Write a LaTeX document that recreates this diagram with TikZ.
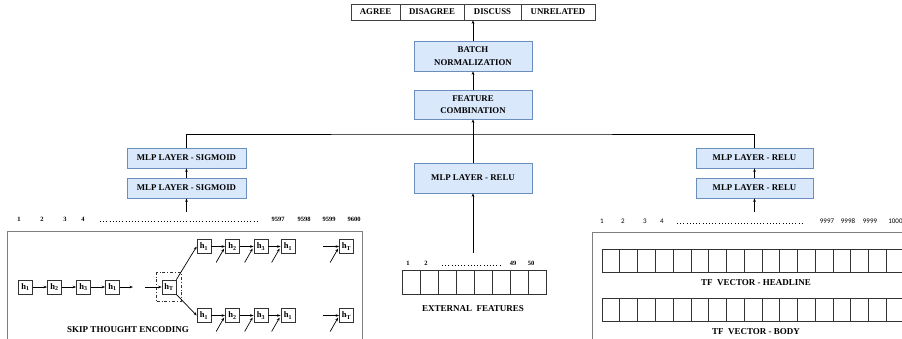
\documentclass[tikz,border=0pt]{standalone}
\usepackage{fontspec}
\setmainfont{Liberation Serif}
\newfontfamily\calibrifont{Carlito}
\usetikzlibrary{arrows.meta}
\usetikzlibrary{calc}
\usetikzlibrary{fit}

\definecolor{layerfill}{HTML}{DAE8FC}
\definecolor{layerdraw}{HTML}{6C8EBF}
\definecolor{panelgray}{HTML}{7F7F7F}

\newcommand{\hlab}[1]{\textbf{h}\textsubscript{\textbf{#1}}}

\tikzset{
	layer/.style={draw=layerdraw, fill=layerfill, minimum width=118pt, inner sep=0pt, align=center, font=\fontsize{8.8}{12.5}\selectfont\bfseries},
	outcell/.style={draw=black!75, minimum height=16pt, inner sep=0pt, font=\fontsize{8.8}{10}\selectfont\bfseries},
	hcell/.style={draw=black!80, minimum width=14pt, minimum height=14pt, inner sep=0pt, font=\fontsize{8.5}{9}\selectfont},
	idx/.style={font=\fontsize{6.5}{7}\selectfont\bfseries, inner sep=0pt},
	tfidx/.style={font=\fontsize{7}{8}\selectfont\calibrifont, inner sep=0pt},
	capt/.style={font=\fontsize{9}{10}\selectfont\bfseries, inner sep=0pt},
	arr/.style={-{Stealth[length=3.5pt,width=2.6pt]}},
	dotrow/.style={line width=0.9pt, dash pattern=on 0.9pt off 2.3pt},
	cellbox/.style={draw=black!80},
}

\begin{document}
\begin{tikzpicture}[x=1pt, y=-1pt, line width=0.7pt]
	\useasboundingbox (0,0) rectangle (902,339);
	\clip (0,0) rectangle (902,339);

	%Output classes
	\node [outcell, minimum width=49pt] (agree) at (375.5,12) {AGREE};
	\node [outcell, minimum width=64pt] (disagree) at (432,12) {DISAGREE};
	\node [outcell, minimum width=57pt] (discuss) at (492.5,12) {DISCUSS};
	\node [outcell, minimum width=74pt] (unrelated) at (558,12) {UNRELATED};

	%Batch norm and feature combination
	\node [layer, minimum height=30pt] (batch) at (473,56) {BATCH\\NORMALIZATION};
	\node [layer, minimum height=29pt] (feat) at (473,104.5) {FEATURE\\COMBINATION};
	\draw [arr] (batch.north) -- (batch.north |- discuss.south);
	\draw [arr] (feat.north) -- (batch.south);

	%MLP layers
	\node [layer, minimum width=119pt, minimum height=20pt] (sigA) at (186.5,158) {MLP LAYER - SIGMOID};
	\node [layer, minimum width=119pt, minimum height=20pt] (sigB) at (186.5,188) {MLP LAYER - SIGMOID};
	\node [layer, minimum height=30pt] (mid) at (473,178) {MLP LAYER - RELU};
	\node [layer, minimum width=117pt, minimum height=20pt] (reluA) at (754.5,158) {MLP LAYER - RELU};
	\node [layer, minimum width=117pt, minimum height=20pt] (reluB) at (754.5,188) {MLP LAYER - RELU};

	\coordinate (bus) at (473,134);
	\draw (sigA.north) |- (bus) -| (reluA.north);
	\draw [arr] (mid.north) -- (feat.south);
	\draw [arr] (sigB.north) -- (sigA.south);
	\draw [arr] (reluB.north) -- (reluA.south);

	\coordinate (sigIn) at (186.5,212);
	\coordinate (midIn) at (473,253);
	\coordinate (reluIn) at (754.5,212);
	\draw [arr] (sigIn) -- (sigB.south);
	\draw [arr] (midIn) -- (mid.south);
	\draw [arr] (reluIn) -- (reluB.south);

	%Skip thought panel
	\draw [panelgray] (7,350) |- (362,231) -- (362,350);
	\node [idx] (s1) at (19,219) {1};
	\node [idx] (s2) at (42,219) {2};
	\node [idx] (s3) at (65,219) {3};
	\node [idx] (s4) at (83,219) {4};
	\draw [dotrow] (100,221.5) -- (257,221.5);
	\node [idx] (s9597) at (278,219) {9597};
	\node [idx] (s9598) at (304,219) {9598};
	\node [idx] (s9599) at (329,219) {9599};
	\node [idx] (s9600) at (354,219) {9600};

	%Encoder
	\node [hcell] (a1) at (25.5,287) {\hlab{1}};
	\node [hcell] (a2) at (54.5,287) {\hlab{2}};
	\node [hcell] (a3) at (83.5,287) {\hlab{3}};
	\node [hcell] (a4) at (112.5,287) {\hlab{1}};
	\node [hcell] (hT) at (169,287) {\hlab{T}};
	\node [draw=black!80, dash dot, inner xsep=5pt, inner ysep=7pt, fit=(hT)] (hTbox) {};
	\coordinate (aEnd) at (133,287);
	\coordinate (aCont) at (145,287);
	\draw [arr] (a1) -- (a2);
	\draw [arr] (a2) -- (a3);
	\draw [arr] (a3) -- (a4);
	\draw [arr] (a4) -- (aEnd);
	\draw [arr] (aCont) -- (hT);

	%Decoders
	\node [hcell] (b1) at (204,246.5) {\hlab{1}};
	\node [hcell] (b2) at (232.5,246.5) {\hlab{2}};
	\node [hcell] (b3) at (261,246.5) {\hlab{3}};
	\node [hcell] (b4) at (288,246.5) {\hlab{1}};
	\node [hcell] (bT) at (346.5,246.5) {\hlab{T}};
	\node [hcell] (c1) at (204,315.5) {\hlab{1}};
	\node [hcell] (c2) at (232.5,315.5) {\hlab{2}};
	\node [hcell] (c3) at (261,315.5) {\hlab{3}};
	\node [hcell] (c4) at (288,315.5) {\hlab{1}};
	\node [hcell] (cT) at (346.5,315.5) {\hlab{T}};
	\draw [arr] (hT.north east) -- (b1.west);
	\draw [arr] (hT.south east) -- (c1.west);
	\coordinate (bGap) at (323,246.5);
	\coordinate (cGap) at (323,315.5);
	\draw [arr] (b1) -- (b2);
	\draw [arr] (b2) -- (b3);
	\draw [arr] (b3) -- (b4);
	\draw [arr] (bGap) -- (bT);
	\draw [arr] (c1) -- (c2);
	\draw [arr] (c2) -- (c3);
	\draw [arr] (c3) -- (c4);
	\draw [arr] (cGap) -- (cT);
	\foreach \n in {b2,b3,b4,bT,c2,c3,c4,cT}
		\draw [arr] ($(\n.west)+(-9,16)$) -- ($(\n.west)+(-1,2)$);
	\node [capt] (skip) at (128,330) {SKIP THOUGHT ENCODING};

	%External features
	\node [idx] (e1) at (408,263) {1};
	\node [idx] (e2) at (426,263) {2};
	\draw [dotrow] (442,265.5) -- (502,265.5);
	\node [idx] (e49) at (513,263) {49};
	\node [idx] (e50) at (531,263) {50};
	\foreach \i in {0,...,7}
		\draw [cellbox] (402+18*\i,270) rectangle ++(18,24);
	\node [capt] (ext) at (473,309) {EXTERNAL\ \ FEATURES};

	%TF vectors
	\draw [panelgray] (592,350) |- (910,232);
	\node [tfidx] (t1) at (602,221) {1};
	\node [tfidx] (t2) at (623,221) {2};
	\node [tfidx] (t3) at (645,221) {3};
	\node [tfidx] (t4) at (662,221) {4};
	\draw [dotrow, line width=0.8pt] (677,223.5) -- (802,223.5);
	\node [tfidx] (t9997) at (827,221) {9997};
	\node [tfidx] (t9998) at (848,221) {9998};
	\node [tfidx] (t9999) at (870,221) {9999};
	\node [tfidx, anchor=west] (t10000) at (888,221) {10000};
	\foreach \i in {0,...,17} {
		\draw [cellbox] (602+17.77*\i,249) rectangle ++(17.77,23);
		\draw [cellbox] (602+17.77*\i,298) rectangle ++(17.77,23);
	}
	\node [capt] (head) at (756,283) {TF\ \ VECTOR - HEADLINE};
	\node [capt] (body) at (756,332) {TF\ \ VECTOR - BODY};
\end{tikzpicture}
\end{document}
